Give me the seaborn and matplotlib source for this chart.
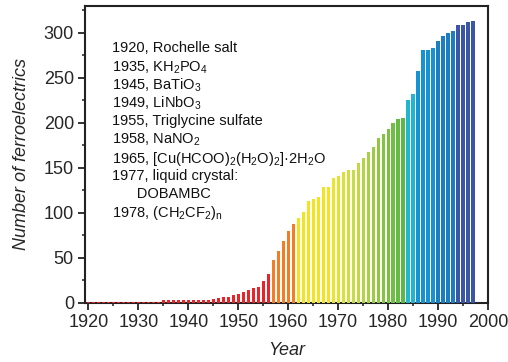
import numpy as np
import pandas as pd
import matplotlib
matplotlib.use("Agg")
import matplotlib.pyplot as plt
from matplotlib.colors import LinearSegmentedColormap, to_hex
from matplotlib.ticker import MultipleLocator
import seaborn as sns

# Cumulative number of known ferroelectrics per year
years = list(range(1920, 1998))
counts = (
    [1] * 15                                   # 1920-1934
    + [3] * 10                                 # 1935-1944
    + [4, 5, 6, 6, 8, 10, 12, 14, 16, 17,      # 1945-1954
       24, 32, 47, 57, 68, 80, 87, 94, 101, 113,   # 1955-1964
       115, 117, 128, 128, 139, 141, 145, 148, 148, 155,  # 1965-1974
       161, 167, 173, 183, 187, 193, 200, 204, 205, 225,  # 1975-1984
       232, 258, 281, 281, 283, 291, 297, 300, 302, 309,  # 1985-1994
       309, 312, 313]                          # 1995-1997
)

milestones = [
    "1920, Rochelle salt",
    "1935, KH$_2$PO$_4$",
    "1945, BaTiO$_3$",
    "1949, LiNbO$_3$",
    "1955, Triglycine sulfate",
    "1958, NaNO$_2$",
    "1965, [Cu(HCOO)$_2$(H$_2$O)$_2$]·2H$_2$O",
    "1977, liquid crystal:",
    "      DOBAMBC",
    "1978, (CH$_2$CF$_2$)$_\\mathrm{n}$",
]

x_ticks = list(range(1920, 2001, 10))
y_ticks = list(range(0, 301, 50))

# Rainbow colouring by era
green_ramp = LinearSegmentedColormap.from_list("yg", ["#ebe629", "#c3da45", "#8cc63f", "#5cb847"])


def year_color(y):
    if y <= 1956:
        return "#e8242b"
    if y <= 1961:
        return "#f47d24"
    if y <= 1968:
        return "#f2e51b"
    if y <= 1983:
        return to_hex(green_ramp((y - 1969) / (1983 - 1969)))
    if y <= 1985:
        return "#21b5d1"
    if y <= 1989:
        return "#1792d2"
    if y <= 1993:
        return "#1b7ec3"
    return "#3b56a6"


df = pd.DataFrame({"year": years, "count": counts})
df["key"] = df["year"].astype(str)
palette = {str(y): year_color(y) for y in years}

sns.set_style("ticks")
plt.rcParams["font.family"] = ["Liberation Sans", "DejaVu Sans"]
plt.rcParams["mathtext.fontset"] = "custom"
plt.rcParams["mathtext.rm"] = "Liberation Sans"
plt.rcParams["mathtext.it"] = "Liberation Sans:italic"

fig = plt.figure(figsize=(5.08, 3.62), dpi=100)
ax = fig.add_axes([85 / 508, 1 - 302.5 / 362, 403 / 508, 296.5 / 362])

sns.barplot(data=df, x="year", y="count", hue="key", palette=palette,
            native_scale=True, width=0.65, legend=False, ax=ax,
            linewidth=0, saturation=1, zorder=3)

ax.set_xlim(1919.3, 2000)
ax.set_ylim(0, 330)
ax.set_xticks(x_ticks)
ax.set_yticks(y_ticks)
ax.xaxis.set_minor_locator(MultipleLocator(5))
ax.yaxis.set_minor_locator(MultipleLocator(25))
ax.tick_params(which="major", direction="out", length=5, width=1.3,
               labelsize=13, pad=3, color="#222222")
ax.tick_params(which="minor", direction="out", length=2.5, width=1.1,
               color="#222222")
for s in ax.spines.values():
    s.set_visible(True)
    s.set_linewidth(1.5)
    s.set_color("#222222")
    s.set_zorder(2)

ax.set_xlabel("Year", fontsize=13, style="italic", labelpad=8)
ax.set_ylabel("Number of ferroelectrics", fontsize=13, style="italic", labelpad=10)

x0 = 27 / 403
for i, line in enumerate(milestones):
    ypix = 47 + 18.2 * i
    ax.text(x0, (302.5 - ypix) / 296.5, line, transform=ax.transAxes,
            fontsize=10.5, va="center_baseline", ha="left", color="#111111")

fig.savefig("out.png", dpi=100)
